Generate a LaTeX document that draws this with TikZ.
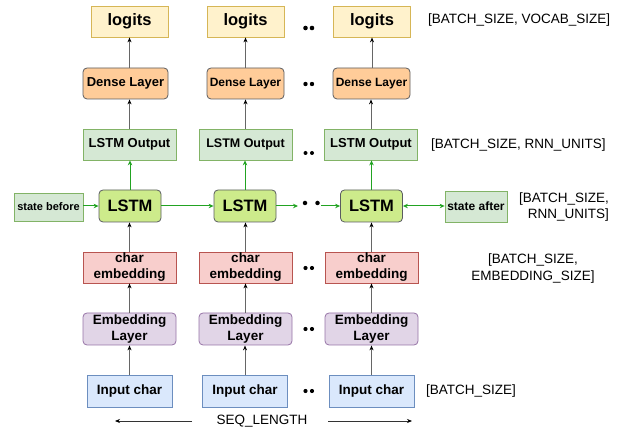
\documentclass[tikz,border=0pt]{standalone}
\usepackage{fontspec}
\setmainfont{Liberation Sans}
\usetikzlibrary{arrows.meta}
\definecolor{yelF}{HTML}{FFF2CC}\definecolor{yelD}{HTML}{D6B656}
\definecolor{oraF}{HTML}{FFCC99}\definecolor{darkD}{HTML}{5A5C60}
\definecolor{grnF}{HTML}{D5E8D4}\definecolor{grnD}{HTML}{82B366}
\definecolor{limF}{HTML}{CDEB8B}
\definecolor{redF}{HTML}{F8CECC}\definecolor{redD}{HTML}{B85450}
\definecolor{purF}{HTML}{E1D5E7}\definecolor{purD}{HTML}{9673A6}
\definecolor{bluF}{HTML}{DAE8FC}\definecolor{bluD}{HTML}{6C8EBF}
\definecolor{arrG}{HTML}{22A322}
\definecolor{arrK}{HTML}{666666}
\begin{document}
\begin{tikzpicture}[x=1pt,y=-1pt,
  box/.style={draw, line width=0.8pt, inner sep=0pt, minimum height=31pt,
    align=center, font=\bfseries\fontsize{13.5}{16}\selectfont},
  logitbox/.style={box, fill=yelF, draw=yelD, minimum width=77pt, font=\bfseries\fontsize{16.5}{18}\selectfont},
  densebox/.style={box, fill=oraF, draw=darkD, rounded corners=4pt, minimum width=77pt, font=\bfseries\fontsize{12}{14}\selectfont},
  outbox/.style={box, fill=grnF, draw=grnD, minimum width=93pt, font=\bfseries\fontsize{12.5}{14}\selectfont},
  lstmbox/.style={box, fill=limF, draw=darkD, rounded corners=4pt, minimum width=62pt, minimum height=32pt, font=\bfseries\fontsize{16.5}{18}\selectfont},
  statebox/.style={box, fill=grnF, draw=grnD, minimum height=28pt},
  charbox/.style={box, fill=redF, draw=redD, minimum width=93pt},
  embbox/.style={box, fill=purF, draw=purD, rounded corners=4pt, minimum width=93pt, minimum height=32pt},
  inbox/.style={box, fill=bluF, draw=bluD, minimum width=85pt, minimum height=32pt},
  dimlabel/.style={inner sep=0pt, font=\fontsize{13.5}{16.5}\selectfont},
  karrow/.style={draw=arrK, line width=1pt, -{Stealth[length=5pt,width=4pt,color=black]}},
  garrow/.style={draw=arrG, line width=1pt, -{Stealth[length=5pt,width=4.5pt]}},
  gdarrow/.style={draw=arrG, line width=1pt, {Stealth[length=5pt,width=4.5pt]}-{Stealth[length=5pt,width=4.5pt]}},
  blarrow/.style={draw=black!80, line width=0.7pt, -{Stealth[length=5pt,width=4pt,color=black]}},
  dot/.style={circle, fill=black, inner sep=0pt, minimum size=4.5pt}
]
\useasboundingbox (0,0) rectangle (624,430);

% column 1
\node[logitbox] (lg1) at (129.5,21.5) {logits};
\node[densebox, minimum width=85pt, font=\bfseries\fontsize{13}{15}\selectfont] (dn1) at (125.5,83.5) {Dense Layer};
\node[outbox, font=\bfseries\fontsize{13}{15}\selectfont] (ou1) at (129.5,144.5) {LSTM Output};
\node[lstmbox] (ls1) at (130,206) {LSTM};
\node[charbox] (ce1) at (129.5,267.5) {char\\embedding};
\node[embbox] (el1) at (129.5,329) {Embedding\\Layer};
\node[inbox] (ic1) at (129.5,391) {Input char};
% column 2
\node[logitbox] (lg2) at (245.5,21.5) {logits};
\node[densebox] (dn2) at (245.5,83.5) {Dense Layer};
\node[outbox] (ou2) at (245.5,144.5) {LSTM Output};
\node[lstmbox] (ls2) at (245,206) {LSTM};
\node[charbox] (ce2) at (245.5,267.5) {char\\embedding};
\node[embbox] (el2) at (245.5,329) {Embedding\\Layer};
\node[inbox] (ic2) at (245,391) {Input char};
% column 3
\node[logitbox] (lg3) at (372,21.5) {logits};
\node[densebox] (dn3) at (371.5,83.5) {Dense Layer};
\node[outbox, font=\bfseries\fontsize{13}{15}\selectfont] (ou3) at (371,144.5) {LSTM Output};
\node[lstmbox] (ls3) at (371.5,206) {LSTM};
\node[charbox] (ce3) at (371.5,267.5) {char\\embedding};
\node[embbox] (el3) at (371.5,329) {Embedding\\Layer};
\node[inbox] (ic3) at (371.5,391) {Input char};

% states
\node[statebox, minimum width=69pt, font=\bfseries\fontsize{11}{13}\selectfont] (sb) at (48.5,207) {state before};
\node[statebox, minimum width=62pt, minimum height=31pt, font=\bfseries\fontsize{12}{14}\selectfont] (sa) at (476,206.5) {state after};

% vertical connectors
\foreach \i in {1,2,3}{
  \draw[karrow] (ic\i.north) -- (ic\i.north |- el\i.south);
  \draw[karrow] (el\i.north) -- (el\i.north |- ce\i.south);
  \draw[karrow] (ce\i.north) -- (ce\i.north |- ls\i.south);
  \draw[garrow] (ls\i.north) -- (ls\i.north |- ou\i.south);
  \draw[karrow] (ou\i.north) -- (ou\i.north |- dn\i.south);
  \draw[karrow] (dn\i.north -| lg\i.south) -- (lg\i.south);
}

% horizontal state flow
\coordinate (gapA) at (298,206);
\coordinate (gapB) at (321,206);
\draw[garrow] (sb.east |- ls1.west) -- (ls1.west);
\draw[garrow] (ls1.east) -- (ls2.west);
\draw[garrow] (ls2.east) -- (gapA);
\draw[garrow] (gapB) -- (ls3.west);
\draw[gdarrow] (ls3.east) -- (sa.west |- ls3.east);
\node[dot] (lsd1) at (305,203) {};
\node[dot] (lsd2) at (317.5,203) {};

% ellipsis dots between columns 2 and 3
\foreach \n/\y/\s in {a/28/4.6pt, b/84/4.4pt, c/153/4pt, d/268/4.2pt, e/329/4.2pt, f/391/4.2pt}{
  \node[dot, minimum size=\s] (\n1) at (305.5,\y) {};
  \node[dot, minimum size=\s] (\n2) at (312,\y) {};
}

% dimension labels
\node[dimlabel, anchor=west] (dVocab) at (428,20) {[BATCH\_SIZE, VOCAB\_SIZE]};
\node[dimlabel, anchor=west] (dRnn) at (431,145) {[BATCH\_SIZE, RNN\_UNITS]};
\node[dimlabel, anchor=east, align=right] (dState) at (609,207) {[BATCH\_SIZE,\\RNN\_UNITS]};
\node[dimlabel, align=center] (dEmb) at (533,268.5) {[BATCH\_SIZE,\\EMBEDDING\_SIZE]};
\node[dimlabel, anchor=west] (dBatch) at (426,391) {[BATCH\_SIZE]};

% sequence length
\node[dimlabel] (seq) at (262,421) {SEQ\_LENGTH};
\coordinate (seqL0) at (192,421);
\coordinate (seqL1) at (115,421);
\coordinate (seqR0) at (328,421);
\coordinate (seqR1) at (412,421);
\draw[blarrow] (seqL0) -- (seqL1);
\draw[blarrow] (seqR0) -- (seqR1);
\end{tikzpicture}
\end{document}
